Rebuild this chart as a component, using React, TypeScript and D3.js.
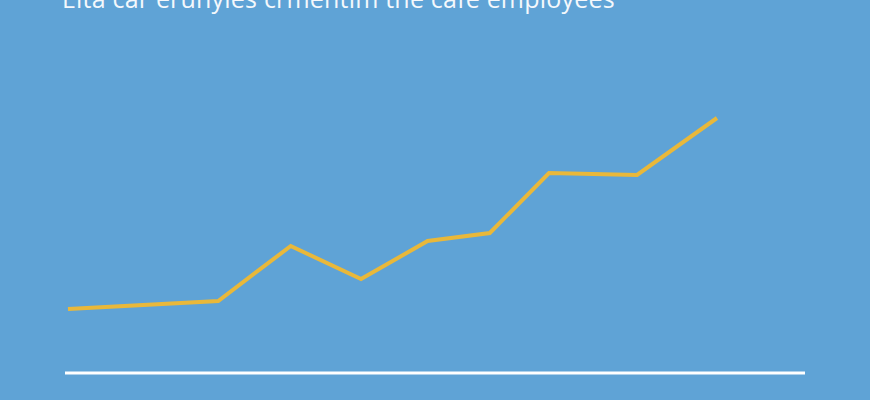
import React from "react";
import * as d3 from "d3";

const title = "Elta car erunyles crmentim the cafe employees";
const xValues = [0, 2.03, 3.01, 3.96, 4.86, 5.7, 6.5, 7.69, 8.77];
const yValues = [64, 72, 127, 94, 132, 140, 200, 198, 255];

const W = 870;
const H = 400;

export default function App() {
  const x = d3.scaleLinear().domain([0, 10]).range([68, 808]);
  const y = d3.scaleLinear().domain([0, 300]).range([373, 73]);
  const pts = xValues.map((v, i) => [v, yValues[i]] as [number, number]);
  const line = d3
    .line<[number, number]>()
    .x((d) => x(d[0]))
    .y((d) => y(d[1]));
  return (
    <svg
      width={W}
      height={H}
      style={{ position: "absolute", left: 0, top: 0, display: "block" }}
    >
      <rect x={0} y={0} width={W} height={H} fill="#5fa3d6" />
      <text
        x={62}
        y={8}
        fill="#f4f8fc"
        fontFamily="Open Sans, sans-serif"
        fontSize={25}
        letterSpacing={0.2}
      >
        {title}
      </text>
      <line x1={65} x2={805} y1={y(0)} y2={y(0)} stroke="#ffffff" strokeWidth={3} />
      <path
        d={line(pts) || ""}
        fill="none"
        stroke="#e9b83a"
        strokeWidth={4}
        strokeLinejoin="miter"
        strokeLinecap="butt"
      />
    </svg>
  );
}
